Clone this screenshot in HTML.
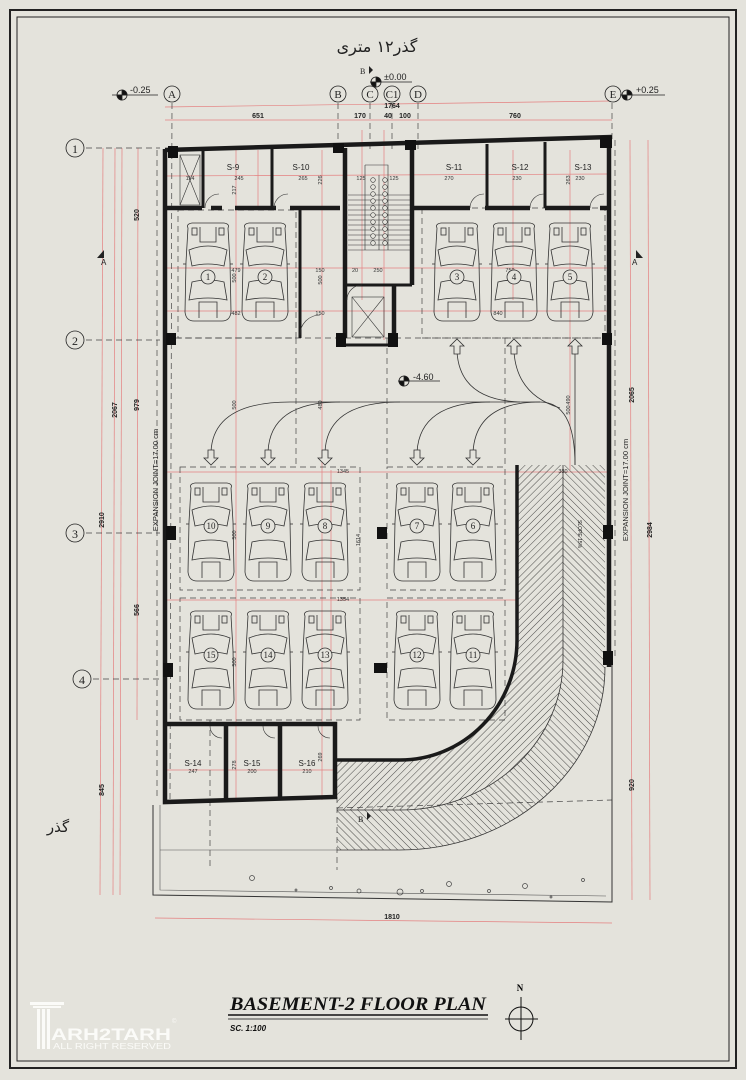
<!DOCTYPE html>
<html><head><meta charset="utf-8"><style>
html,body{margin:0;padding:0;background:#e4e3dc;}
svg{display:block;font-family:"Liberation Sans",sans-serif;}
.s{font-family:"Liberation Serif",serif;}
</style></head><body>
<svg width="746" height="1080" viewBox="0 0 746 1080" xmlns="http://www.w3.org/2000/svg">
<defs>
<pattern id="h1" width="5" height="5" patternUnits="userSpaceOnUse" patternTransform="rotate(45)">
<line x1="0" y1="0" x2="0" y2="5" stroke="#222" stroke-width="0.8"/></pattern>
<pattern id="h2" width="5" height="5" patternUnits="userSpaceOnUse" patternTransform="rotate(-45)">
<line x1="0" y1="0" x2="0" y2="5" stroke="#222" stroke-width="0.8"/></pattern>
<g id="car" fill="none" stroke="#333" stroke-width="0.8">
<path d="M-20,-44 Q-22,-48 -16,-49 L16,-49 Q22,-48 20,-44 L22,-10 L23,40 Q22,49 14,49 L-14,49 Q-22,49 -23,40 L-22,-10 Z"/>
<path d="M-8,-45 V-30 H8 V-45"/><rect x="-16" y="-44" width="5" height="7"/><rect x="11" y="-44" width="5" height="7"/>
<path d="M-19,-22 Q0,-30 19,-22 L16,-6 Q0,-10 -16,-6 Z"/>
<path d="M-16,10 Q0,6 16,10 L19,28 Q0,24 -19,28 Z"/>
<path d="M-9,46 V30 H9 V46"/><line x1="-22" y1="-8" x2="-25" y2="-8"/><line x1="22" y1="-8" x2="25" y2="-8"/>
</g>
<g id="dn"><path d="M-3,-8 H3 V0 H7 L0,7 L-7,0 H-3 Z" fill="#e4e3dc" stroke="#333" stroke-width="0.8"/></g>
<g id="up"><path d="M-3,8 H3 V0 H7 L0,-7 L-7,0 H-3 Z" fill="#e4e3dc" stroke="#333" stroke-width="0.8"/></g>
</defs>
<rect x="10" y="10" width="726" height="1058" fill="none" stroke="#222" stroke-width="2"/>
<rect x="17" y="17" width="712" height="1044" fill="none" stroke="#222" stroke-width="1"/>

<g stroke="#e48080" stroke-width="0.7" fill="none">
<line x1="103" y1="148" x2="100" y2="895"/><line x1="115" y1="148" x2="113" y2="895"/><line x1="138" y1="148" x2="137" y2="720"/>
<line x1="122" y1="148" x2="120" y2="895"/>
<line x1="630" y1="140" x2="632" y2="900"/><line x1="648" y1="140" x2="650" y2="900"/>
<line x1="165" y1="107" x2="612" y2="101"/><line x1="165" y1="120" x2="612" y2="120"/>
<line x1="155" y1="918" x2="612" y2="923"/>
<line x1="163" y1="176" x2="608" y2="174"/><line x1="163" y1="268" x2="608" y2="268"/><line x1="163" y1="311" x2="608" y2="311"/>
<line x1="163" y1="472" x2="608" y2="472"/><line x1="163" y1="600" x2="517" y2="600"/><line x1="163" y1="770" x2="335" y2="770"/>
<line x1="236" y1="150" x2="236" y2="800"/><line x1="258" y1="150" x2="258" y2="210"/><line x1="322" y1="150" x2="322" y2="800"/>
<line x1="362" y1="130" x2="362" y2="300"/><line x1="384" y1="130" x2="384" y2="340"/><line x1="570" y1="150" x2="570" y2="470"/>
<line x1="331" y1="470" x2="331" y2="720"/><line x1="513" y1="150" x2="513" y2="300"/>
</g>

<g stroke="#444" stroke-width="0.7" stroke-dasharray="6,4" fill="none">
<line x1="172" y1="103" x2="170" y2="800"/><line x1="338" y1="103" x2="338" y2="150"/><line x1="370" y1="103" x2="370" y2="150"/>
<line x1="392" y1="103" x2="392" y2="150"/><line x1="418" y1="103" x2="418" y2="150"/><line x1="612" y1="103" x2="612" y2="140"/>
<line x1="86" y1="148" x2="160" y2="148"/><line x1="86" y1="340" x2="160" y2="340"/><line x1="86" y1="533" x2="160" y2="533"/><line x1="93" y1="679" x2="160" y2="679"/>
<line x1="165" y1="338" x2="608" y2="338"/>
<rect x="178" y="210" width="118" height="128"/><rect x="422" y="208" width="183" height="130"/>
<rect x="180" y="467" width="180" height="123"/><rect x="387" y="467" width="118" height="123"/>
<rect x="180" y="598" width="180" height="122"/><rect x="387" y="598" width="118" height="122"/>
<line x1="296" y1="338" x2="296" y2="467"/><line x1="387" y1="338" x2="387" y2="467"/><line x1="505" y1="338" x2="505" y2="467"/>
<line x1="210" y1="720" x2="210" y2="870"/><line x1="337" y1="797" x2="337" y2="870"/>
<line x1="337" y1="808" x2="612" y2="800"/>
<line x1="157" y1="150" x2="157" y2="800"/><line x1="615" y1="140" x2="615" y2="660"/>
</g>

<g fill="#e4e3dc" stroke="#222" stroke-width="0.8">
<circle cx="172" cy="94" r="8"/><circle cx="338" cy="94" r="8"/><circle cx="370" cy="94" r="8"/><circle cx="392" cy="94" r="8"/><circle cx="418" cy="94" r="8"/><circle cx="613" cy="94" r="8"/>
<circle cx="75" cy="148" r="9"/><circle cx="75" cy="340" r="9"/><circle cx="75" cy="533" r="9"/><circle cx="82" cy="679" r="9"/>
</g>
<g class="s" font-size="11" text-anchor="middle" fill="#222">
<text x="172" y="98">A</text><text x="338" y="98">B</text><text x="370" y="98">C</text><text x="392" y="98">C1</text><text x="418" y="98">D</text><text x="613" y="98">E</text>
<text x="75" y="153" font-size="12">1</text><text x="75" y="345" font-size="12">2</text><text x="75" y="538" font-size="12">3</text><text x="82" y="684" font-size="12">4</text>
</g>
<g stroke="#222" stroke-width="0.8">
<circle cx="122" cy="95" r="5" fill="#e4e3dc"/><path d="M122,90 A5,5 0 0 1 127,95 L122,95 Z M122,100 A5,5 0 0 1 117,95 L122,95Z" fill="#111"/><line x1="112" y1="95" x2="158" y2="95"/>
<circle cx="627" cy="95" r="5" fill="#e4e3dc"/><path d="M627,90 A5,5 0 0 1 632,95 L627,95 Z M627,100 A5,5 0 0 1 622,95 L627,95Z" fill="#111"/><line x1="620" y1="95" x2="665" y2="95"/>
<circle cx="376" cy="82" r="5" fill="#e4e3dc"/><path d="M376,77 A5,5 0 0 1 381,82 L376,82 Z M376,87 A5,5 0 0 1 371,82 L376,82Z" fill="#111"/><line x1="370" y1="82" x2="412" y2="82"/>
<circle cx="404" cy="381" r="5" fill="#e4e3dc"/><path d="M404,376 A5,5 0 0 1 409,381 L404,381 Z M404,386 A5,5 0 0 1 399,381 L404,381Z" fill="#111"/><line x1="398" y1="381" x2="440" y2="381"/>
</g>
<g font-size="9" fill="#222"><text x="130" y="93">-0.25</text><text x="636" y="93">+0.25</text><text x="384" y="80">±0.00</text><text x="413" y="380">-4.60</text></g>
<g fill="#222" font-size="7"><path d="M104,258 L97,258 L104,250Z M636,258 L643,258 L636,250Z"/><text x="101" y="265" font-size="8">A</text><text x="632" y="265" font-size="8">A</text>
<text x="360" y="74" font-size="8" class="s">B</text><path d="M369,66 l4,4 l-4,4Z"/><text x="358" y="822" font-size="8" class="s">B</text><path d="M367,812 l4,4 l-4,4Z"/></g>

<g font-size="7" fill="#222" text-anchor="middle" font-weight="bold">
<text x="258" y="118">651</text><text x="360" y="118">170</text><text x="388" y="118">40</text><text x="405" y="118">100</text><text x="515" y="118">760</text><text x="392" y="108">1764</text>
<text x="392" y="919">1810</text>
<text transform="translate(104,520) rotate(-90)">2910</text><text transform="translate(117,410) rotate(-90)">2067</text>
<text transform="translate(139,405) rotate(-90)">979</text><text transform="translate(139,215) rotate(-90)">520</text><text transform="translate(139,610) rotate(-90)">566</text>
<text transform="translate(104,790) rotate(-90)">845</text>
<text transform="translate(634,395) rotate(-90)">2065</text><text transform="translate(652,530) rotate(-90)">2984</text><text transform="translate(634,785) rotate(-90)">920</text>
</g>
<g font-size="7.5" fill="#222" text-anchor="middle">
<text transform="translate(158,480) rotate(-90)">EXPANSION  JOINT=17.00  cm</text>
<text transform="translate(628,490) rotate(-90)">EXPANSION  JOINT=17.00  cm</text>
</g>
<g font-size="5.5" fill="#333" text-anchor="middle">
<text x="190" y="180">114</text><text x="239" y="180">245</text><text x="303" y="180">265</text><text x="449" y="180">270</text><text x="517" y="180">230</text><text x="580" y="180">230</text>
<text x="361" y="180">125</text><text x="394" y="180">125</text><text x="236" y="272">479</text><text x="236" y="315">482</text>
<text x="320" y="272">150</text><text x="320" y="315">150</text><text x="355" y="272">20</text><text x="378" y="272">250</text><text x="510" y="272">750</text><text x="498" y="315">840</text>
<text x="343" y="473">1345</text><text x="343" y="601">1354</text><text x="563" y="473">330</text>
<text x="193" y="773">247</text><text x="252" y="773">200</text><text x="307" y="773">210</text>
<text transform="translate(236,190) rotate(-90)">217</text><text transform="translate(322,180) rotate(-90)">226</text><text transform="translate(570,180) rotate(-90)">263</text>
<text transform="translate(236,278) rotate(-90)">500</text><text transform="translate(322,280) rotate(-90)">500</text><text transform="translate(570,410) rotate(-90)">500</text>
<text transform="translate(322,405) rotate(-90)">480</text><text transform="translate(236,405) rotate(-90)">500</text><text transform="translate(570,400) rotate(-90)">490</text>
<text transform="translate(360,540) rotate(-90)">1614</text><text transform="translate(236,535) rotate(-90)">500</text><text transform="translate(236,662) rotate(-90)">500</text>
<text transform="translate(236,765) rotate(-90)">278</text><text transform="translate(322,757) rotate(-90)">269</text>
</g>

<path d="M517,465 H563 V660 A163,150 0 0 1 400,810 L337,810 V797 L337,760 L400,760 A117,120 0 0 0 517,640 Z" fill="url(#h1)"/>
<path d="M563,465 H605 V667 A205,183 0 0 1 400,850 L337,850 V810 L400,810 A163,150 0 0 0 563,660 Z" fill="url(#h2)"/>
<path d="M563,465 V660 A163,150 0 0 1 400,810 H337" fill="none" stroke="#333" stroke-width="0.8"/>
<path d="M605,667 A205,183 0 0 1 400,850 H337" fill="none" stroke="#333" stroke-width="0.8"/>
<text transform="translate(578,520) rotate(90)" font-size="5" fill="#222">SLOPE 15%</text>

<path d="M153,805 V895 L612,902 V665" fill="none" stroke="#333" stroke-width="1"/>
<path d="M160,805 V890 L606,896" fill="none" stroke="#555" stroke-width="0.6"/>
<line x1="160" y1="850" x2="337" y2="850" stroke="#555" stroke-width="0.6"/>
<g fill="none" stroke="#444" stroke-width="0.7">
<circle cx="252" cy="878" r="2.5"/><circle cx="331" cy="888" r="1.5"/><circle cx="359" cy="891" r="2"/><circle cx="400" cy="892" r="3"/><circle cx="422" cy="891" r="1.5"/>
<circle cx="449" cy="884" r="2.5"/><circle cx="489" cy="891" r="1.5"/><circle cx="525" cy="886" r="2.5"/><circle cx="583" cy="880" r="1.5"/><circle cx="296" cy="890" r="1"/><circle cx="551" cy="897" r="1"/>
</g>

<g fill="none" stroke="#1a1a1a" stroke-width="4.5" stroke-linejoin="miter">
<path d="M165,150 L612,137"/><path d="M165,149 V802 L335,797 V724 H163"/>
<line x1="226" y1="724" x2="226" y2="800"/><line x1="280" y1="724" x2="280" y2="799"/>
<path d="M609,136 V667"/>
<path d="M337,760 H400 A117,120 0 0 0 517,640 V465" stroke-width="3.5"/>
<path d="M165,208 H202 M211,208 H222 M235,208 H276 M290,208 H340"/>
<line x1="203" y1="150" x2="203" y2="208" stroke-width="3"/><line x1="272" y1="149" x2="272" y2="208" stroke-width="3"/>
<line x1="345" y1="148" x2="345" y2="338"/><line x1="412" y1="146" x2="412" y2="285"/>
<line x1="300" y1="208" x2="300" y2="338" stroke-width="3"/><line x1="345" y1="285" x2="412" y2="285" stroke-width="3"/>
<line x1="394" y1="285" x2="394" y2="345"/><line x1="345" y1="345" x2="394" y2="345" stroke-width="3"/>
<path d="M412,208 H470 M485,208 H530 M545,208 H590 M600,208 H608"/>
<line x1="487" y1="144" x2="487" y2="208" stroke-width="3"/><line x1="545" y1="142" x2="545" y2="208" stroke-width="3"/>
</g>
<g fill="#111">
<rect x="168" y="146" width="10" height="12"/><rect x="333" y="143" width="11" height="10"/><rect x="405" y="140" width="11" height="10"/><rect x="600" y="136" width="12" height="12"/>
<rect x="166" y="333" width="10" height="12"/><rect x="336" y="333" width="10" height="14"/><rect x="388" y="333" width="10" height="14"/><rect x="602" y="333" width="10" height="12"/>
<rect x="166" y="526" width="10" height="14"/><rect x="377" y="527" width="10" height="12"/><rect x="603" y="525" width="10" height="14"/>
<rect x="163" y="663" width="10" height="14"/><rect x="374" y="663" width="13" height="10"/><rect x="603" y="651" width="10" height="14"/>
</g>
<g stroke="#333" stroke-width="0.6" fill="none">
<line x1="348" y1="195" x2="410" y2="195"/><line x1="348" y1="200" x2="410" y2="200"/><line x1="348" y1="205" x2="410" y2="205"/><line x1="348" y1="210" x2="410" y2="210"/>
<line x1="348" y1="215" x2="410" y2="215"/><line x1="348" y1="220" x2="410" y2="220"/><line x1="348" y1="225" x2="410" y2="225"/><line x1="348" y1="230" x2="410" y2="230"/>
<line x1="348" y1="235" x2="410" y2="235"/><line x1="348" y1="240" x2="410" y2="240"/><line x1="348" y1="245" x2="410" y2="245"/><line x1="348" y1="250" x2="410" y2="250"/>
<line x1="379" y1="175" x2="379" y2="250"/><line x1="365" y1="165" x2="365" y2="250"/><path d="M365,165 H388 V250"/>
<rect x="352" y="297" width="32" height="40"/><path d="M352,297 L384,337 M384,297 L352,337"/>
<rect x="180" y="155" width="20" height="50"/><path d="M180,155 L200,205 M200,155 L180,205"/>
<path d="M205,208 A14,14 0 0 1 219,194 M274,208 A14,14 0 0 1 288,194 M470,208 A14,14 0 0 1 484,194 M530,208 A14,14 0 0 1 544,194 M590,208 A14,14 0 0 1 604,194"/>
<path d="M300,335 A20,20 0 0 1 320,315"/><path d="M347,300 A15,15 0 0 1 362,285"/>
<path d="M210,726 A12,12 0 0 0 222,738 M263,726 A12,12 0 0 0 275,738 M318,726 A12,12 0 0 0 330,738"/>
</g>
<g fill="#e4e3dc" stroke="#333" stroke-width="0.6">
<circle cx="373" cy="180" r="2.3"/><circle cx="373" cy="187" r="2.3"/><circle cx="373" cy="194" r="2.3"/><circle cx="373" cy="201" r="2.3"/><circle cx="373" cy="208" r="2.3"/><circle cx="373" cy="215" r="2.3"/><circle cx="373" cy="222" r="2.3"/><circle cx="373" cy="229" r="2.3"/><circle cx="373" cy="236" r="2.3"/><circle cx="373" cy="243" r="2.3"/>
<circle cx="385" cy="180" r="2.3"/><circle cx="385" cy="187" r="2.3"/><circle cx="385" cy="194" r="2.3"/><circle cx="385" cy="201" r="2.3"/><circle cx="385" cy="208" r="2.3"/><circle cx="385" cy="215" r="2.3"/><circle cx="385" cy="222" r="2.3"/><circle cx="385" cy="229" r="2.3"/><circle cx="385" cy="236" r="2.3"/><circle cx="385" cy="243" r="2.3"/>
</g>

<g font-size="8" fill="#222" text-anchor="middle">
<text x="233" y="170">S-9</text><text x="301" y="170">S-10</text><text x="454" y="170">S-11</text><text x="520" y="170">S-12</text><text x="583" y="170">S-13</text>
<text x="193" y="766">S-14</text><text x="252" y="766">S-15</text><text x="307" y="766">S-16</text>
</g>

<g fill="none" stroke="#333" stroke-width="0.8">
<path d="M211,452 Q213,402 290,402 H540 Q575,402 575,465"/>
<path d="M268,452 Q270,402 340,402"/><path d="M325,452 Q327,402 400,402"/>
<path d="M417,452 Q420,402 490,402"/><path d="M473,452 Q476,402 540,402"/>
<path d="M457,352 Q460,400 520,402"/><path d="M514,352 Q517,395 560,408"/>
<line x1="575" y1="352" x2="575" y2="465"/>
</g>
<use href="#dn" x="211" y="458"/><use href="#dn" x="268" y="458"/><use href="#dn" x="325" y="458"/><use href="#dn" x="417" y="458"/><use href="#dn" x="473" y="458"/>
<use href="#up" x="457" y="346"/><use href="#up" x="514" y="346"/><use href="#up" x="575" y="346"/>

<use href="#car" x="208" y="272"/><use href="#car" x="265" y="272"/><use href="#car" x="457" y="272"/><use href="#car" x="514" y="272"/><use href="#car" x="570" y="272"/>
<use href="#car" x="211" y="532"/><use href="#car" x="268" y="532"/><use href="#car" x="325" y="532"/><use href="#car" x="417" y="532"/><use href="#car" x="473" y="532"/>
<use href="#car" x="211" y="660"/><use href="#car" x="268" y="660"/><use href="#car" x="325" y="660"/><use href="#car" x="417" y="660"/><use href="#car" x="473" y="660"/>
<g fill="#e4e3dc" stroke="#333" stroke-width="0.8">
<circle cx="208" cy="277" r="7"/><circle cx="265" cy="277" r="7"/><circle cx="457" cy="277" r="7"/><circle cx="514" cy="277" r="7"/><circle cx="570" cy="277" r="7"/>
<circle cx="211" cy="526" r="7"/><circle cx="268" cy="526" r="7"/><circle cx="325" cy="526" r="7"/><circle cx="417" cy="526" r="7"/><circle cx="473" cy="526" r="7"/>
<circle cx="211" cy="655" r="7"/><circle cx="268" cy="655" r="7"/><circle cx="325" cy="655" r="7"/><circle cx="417" cy="655" r="7"/><circle cx="473" cy="655" r="7"/>
</g>
<g class="s" font-size="9" text-anchor="middle" fill="#222">
<text x="208" y="280">1</text><text x="265" y="280">2</text><text x="457" y="280">3</text><text x="514" y="280">4</text><text x="570" y="280">5</text>
<text x="211" y="529">10</text><text x="268" y="529">9</text><text x="325" y="529">8</text><text x="417" y="529">7</text><text x="473" y="529">6</text>
<text x="211" y="658">15</text><text x="268" y="658">14</text><text x="325" y="658">13</text><text x="417" y="658">12</text><text x="473" y="658">11</text>
</g>

<text x="377" y="52" font-family="'DejaVu Sans',sans-serif" font-size="16" text-anchor="middle" fill="#222">گذر۱۲ متری</text>
<text x="58" y="832" font-family="'DejaVu Sans',sans-serif" font-size="15" text-anchor="middle" fill="#222">گذر</text>

<text x="230" y="1010" class="s" font-size="19" font-style="italic" font-weight="bold" fill="#111" textLength="256" lengthAdjust="spacingAndGlyphs">BASEMENT-2  FLOOR  PLAN</text>
<line x1="228" y1="1015" x2="488" y2="1015" stroke="#111" stroke-width="1.5"/><line x1="228" y1="1019" x2="488" y2="1019" stroke="#111" stroke-width="0.8"/>
<text x="230" y="1031" font-size="8" font-style="italic" font-weight="bold" fill="#111">SC.  1:100</text>
<text x="520" y="991" class="s" font-size="9" font-weight="bold" text-anchor="middle">N</text>
<circle cx="521" cy="1019" r="12" fill="none" stroke="#111" stroke-width="1"/>
<line x1="521" y1="997" x2="521" y2="1040" stroke="#111"/><line x1="505" y1="1019" x2="538" y2="1019" stroke="#111"/>
<g fill="#fbfbf8">
<rect x="30" y="1002" width="34" height="3"/><rect x="33" y="1006" width="28" height="2"/>
<rect x="37" y="1009" width="3" height="40"/><rect x="42" y="1009" width="3" height="40"/><rect x="47" y="1009" width="3" height="40"/>
</g>
<text x="51" y="1040" font-size="17" font-weight="bold" fill="#fbfbf8" textLength="120" lengthAdjust="spacingAndGlyphs">ARH2TARH</text>
<text x="53" y="1049" font-size="8" fill="#fbfbf8" textLength="118" lengthAdjust="spacingAndGlyphs">ALL RIGHT RESERVED</text>
<text x="172" y="1023" font-size="6" fill="#fbfbf8">©</text>
</svg>
</body></html>
